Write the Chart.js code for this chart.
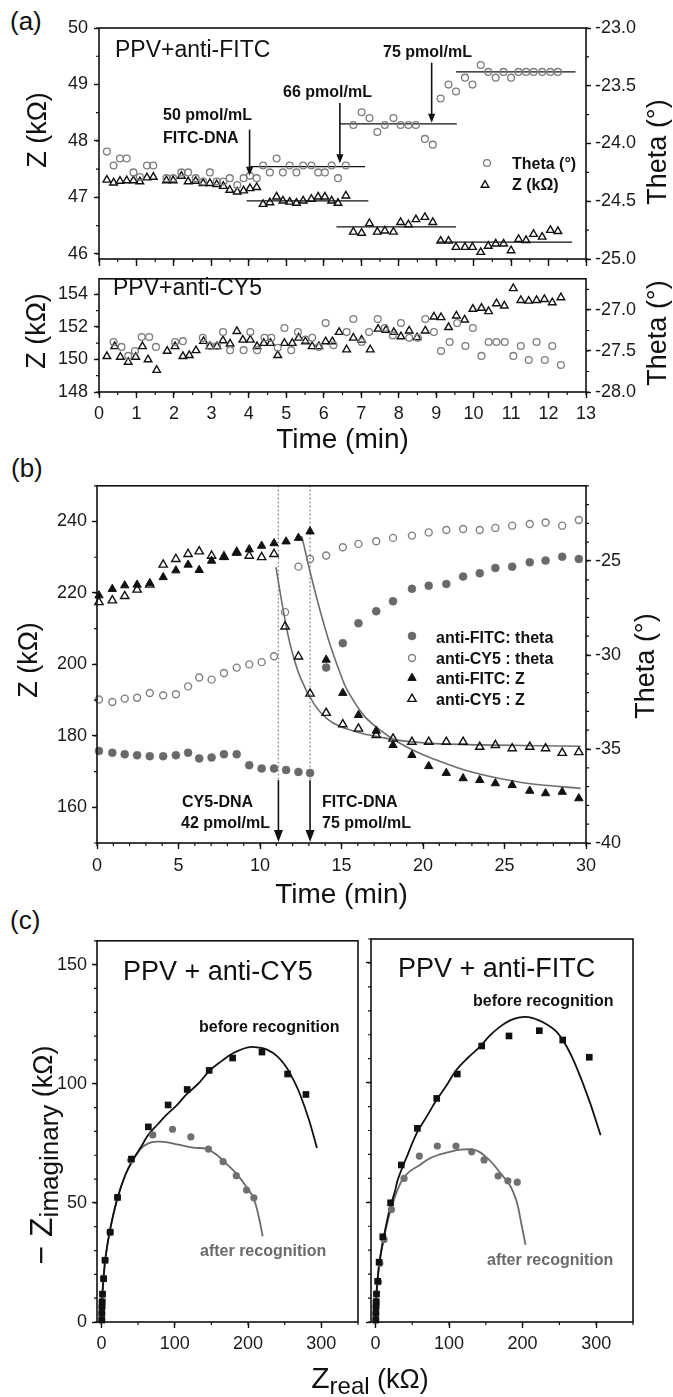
<!DOCTYPE html>
<html>
<head>
<meta charset="utf-8">
<title>Impedance response of PPV sensors</title>
<script src="https://cdn.jsdelivr.net/npm/chart.js"></script>
<style>
  html, body { margin: 0; background: #fff; }
  #page { position: relative; width: 673px; height: 1397px; overflow: hidden; }
  #page canvas { position: absolute; left: 0; }
  .tag { position: absolute; font: 26px/26px 'Liberation Sans', Arial, sans-serif; color: #111; }
</style>
</head>
<body>
<div id="page">
  <div class="tag" style="left:10px; top:8px">(a)</div>
  <div class="tag" style="left:11px; top:455px">(b)</div>
  <div class="tag" style="left:10px; top:907px">(c)</div>
  <canvas id="a1" width="673" height="276" style="top:0px"></canvas>
  <canvas id="a2" width="673" height="200" style="top:262px"></canvas>
  <canvas id="b" width="673" height="445" style="top:470px"></canvas>
  <canvas id="c1" width="673" height="472" style="top:925px"></canvas>
  <canvas id="c2" width="673" height="472" style="top:925px"></canvas>
</div>
<script>
// ---------- (a) upper: PPV+anti-FITC ----------
const fitcTime = [0.21,0.39,0.56,0.74,0.92,1.09,1.28,1.45,1.80,1.98,2.20,2.38,2.58,2.78,2.96,3.14,3.32,3.49,3.69,3.86,4.03,4.21,
  4.38,4.56,4.74,4.91,5.09,5.27,5.45,5.67,5.85,6.03,6.21,6.38,6.59,6.79,7.01,7.22,7.43,7.63,7.86,8.05,8.26,8.46,8.70,8.91,
  9.12,9.33,9.53,9.77,9.97,10.19,10.39,10.59,10.80,11.00,11.20,11.40,11.60,11.83,12.05,12.25];
const fitcZ = [47.31,47.26,47.29,47.30,47.30,47.28,47.35,47.36,
  47.30,47.30,47.38,47.28,47.29,47.25,47.25,47.23,47.20,47.13,47.10,47.12,47.16,47.18,
  46.88,46.91,47.01,46.94,46.92,46.90,46.94,46.97,47.01,47.01,46.94,46.90,47.03,
  46.39,46.37,46.54,46.39,46.41,46.39,46.56,46.52,46.61,46.65,46.56,
  46.23,46.23,46.12,46.12,46.12,46.03,46.14,46.18,46.18,46.06,46.26,46.24,46.35,46.30,46.42,46.40];
const fitcTheta = [-24.07,-24.19,-24.13,-24.13,-24.25,-24.29,-24.19,-24.19,
  -24.30,-24.30,-24.25,-24.25,-24.30,-24.33,-24.25,-24.33,-24.33,-24.30,-24.36,-24.30,-24.28,-24.30,
  -24.19,-24.25,-24.13,-24.25,-24.19,-24.25,-24.19,-24.19,-24.25,-24.25,-24.19,-24.30,-24.19,
  -23.84,-23.73,-23.78,-23.90,-23.84,-23.78,-23.84,-23.84,-23.84,-23.96,-24.01,
  -23.61,-23.49,-23.55,-23.43,-23.49,-23.32,-23.38,-23.43,-23.38,-23.43,-23.38,-23.38,-23.38,-23.38,-23.38,-23.38];
const thetaStepFrom = [4.04, 6.43, 9.53];
const thetaStepTo = [7.10, 9.55, 12.72];
const thetaStepLevel = [-24.20, -23.83, -23.38];
const zStepFrom = [3.94, 6.34, 9.02];
const zStepTo = [7.19, 9.53, 12.63];
const zStepLevel = [46.94, 46.48, 46.21];
const aArrowTime = [4.02, 6.43, 8.88];
const aArrowFrom = [-23.88, -23.65, -23.30];
const aArrowTo = [-24.28, -24.17, -23.82];

// ---------- (a) lower: PPV+anti-CY5 ----------
const cy5TimeZ = [0.21,0.42,0.57,0.78,0.98,1.16,1.31,1.54,1.82,2.03,2.24,2.41,2.59,2.79,2.96,3.15,3.31,3.50,3.68,3.84,
  4.04,4.22,4.40,4.58,4.77,4.95,5.16,5.33,5.51,5.69,5.87,6.05,6.23,6.41,6.61,6.79,7.01,7.24,7.45,7.66,
  7.87,8.06,8.28,8.49,8.71,8.94,9.13,9.33,9.54,9.76,9.98,10.21,10.40,10.61,10.82,11.06,11.26,11.47,11.68,11.89,12.10,12.33];
const cy5Z = [150.19,150.80,150.15,149.84,150.15,150.80,149.99,149.34,150.51,150.80,150.19,150.25,150.55,151.12,150.80,
  150.80,151.16,150.96,151.73,151.20,151.20,150.80,151.00,151.00,150.25,151.00,151.00,151.32,151.10,150.80,
  150.80,151.10,151.10,151.67,150.60,151.32,151.20,150.60,151.87,151.80,151.67,151.40,151.76,151.35,151.76,
  152.62,152.58,151.97,152.68,152.43,153.09,153.15,152.95,153.43,153.29,154.36,153.63,153.59,153.63,153.69,153.49,153.80];
const cy5TimeTheta = [0.39,0.60,0.78,0.96,1.14,1.34,1.52,2.03,2.24,2.77,2.96,3.15,3.31,3.50,3.86,4.04,4.22,4.42,4.60,4.77,
  4.95,5.13,5.31,5.51,5.69,5.87,6.05,6.26,6.61,6.79,7.01,7.21,7.44,7.63,7.84,8.06,8.28,8.51,8.71,8.94,
  9.13,9.36,9.56,9.78,9.98,10.21,10.40,10.61,10.83,11.06,11.26,11.47,11.68,11.90,12.10,12.33];
const cy5Theta = [-27.39,-27.45,-27.56,-27.50,-27.33,-27.33,-27.45,-27.39,-27.38,-27.34,-27.44,-27.44,-27.27,-27.49,-27.49,
  -27.27,-27.49,-27.34,-27.34,-27.46,-27.22,-27.49,-27.27,-27.36,-27.34,-27.45,-27.16,-27.43,-27.27,-27.11,
  -27.39,-27.27,-27.11,-27.22,-27.31,-27.16,-27.34,-27.34,-27.11,-27.27,-27.50,-27.39,-27.16,-27.44,-27.22,
  -27.56,-27.39,-27.39,-27.39,-27.56,-27.44,-27.61,-27.39,-27.61,-27.44,-27.67];

const aTimeTicks = [0,1,2,3,4,5,6,7,8,9,10,11,12,13];
const aFitcZTicks = [46, 47, 48, 49, 50];
const aFitcThetaTicks = [-25, -24.5, -24, -23.5, -23];
const aCy5ZTicks = [148, 150, 152, 154];
const aCy5ThetaTicks = [-28, -27.5, -27];

// ---------- (b) two sensors, sequential injections ----------
const bTimeFitc = [0.12,0.94,1.70,2.46,3.24,4.06,4.84,5.59,6.27,7.03,7.79,8.57,9.34,10.10,10.86,11.60,12.36,13.07,
  14.06,15.08,16.04,17.13,18.16,19.32,20.35,21.43,22.46,23.48,24.44,25.47,26.55,27.52,28.54,29.56];
const bFitcZ = [219.3,221.1,222.1,222.3,222.7,224.4,226.3,227.9,226.4,229.0,230.0,231.2,232.2,233.2,233.9,234.4,235.4,237.2,
  201.3,192.0,185.8,181.4,177.4,174.6,171.5,169.6,168.1,167.6,166.7,166.2,164.6,163.9,164.3,162.5];
const bFitcTheta = [-35.10,-35.20,-35.28,-35.33,-35.38,-35.38,-35.33,-35.20,-35.50,-35.45,-35.28,-35.28,-35.86,-36.04,-36.04,-36.12,-36.22,-36.27,
  -30.67,-29.37,-28.31,-27.67,-27.14,-26.48,-26.31,-26.22,-25.83,-25.65,-25.37,-25.30,-25.07,-24.98,-24.77,-24.89];
const bTimeCy5 = [0.12,0.94,1.70,2.46,3.24,4.06,4.84,5.59,6.27,7.03,7.79,8.57,9.34,10.10,10.86,11.54,12.36,13.07,
  14.06,15.08,16.04,17.13,18.16,19.32,20.35,21.43,22.46,23.48,24.44,25.47,26.55,27.52,28.54,29.56];
const bCy5Z = [217.4,217.9,219.1,220.9,222.3,227.9,229.5,230.9,231.6,230.4,230.2,231.4,230.4,230.0,230.9,210.6,202.2,191.8,
  186.4,183.2,182.0,180.2,179.2,178.3,178.3,178.3,178.3,176.9,177.4,176.5,176.9,176.5,175.2,175.4];
const bCy5Theta = [-32.37,-32.50,-32.32,-32.27,-32.02,-32.14,-32.09,-31.67,-31.20,-31.31,-30.96,-30.67,-30.50,-30.38,-30.07,-27.72,-25.30,-24.89,
  -24.71,-24.27,-24.09,-23.95,-23.77,-23.65,-23.48,-23.35,-23.30,-23.35,-23.24,-23.12,-23.03,-22.95,-23.12,-22.82];
const bCy5FitTime = [10.98,11.43,11.84,12.46,13.30,14.10,14.92,16.35,17.40,18.40,20.45,24.55,29.67];
const bCy5FitZ = [227.2,215.1,205.8,196.5,189.0,184.8,182.6,180.6,179.6,178.8,177.9,177.4,177.1];
const bFitcFitTime = [12.56,13.07,13.69,14.30,14.92,15.33,16.35,17.37,18.40,19.43,20.45,22.50,24.55,26.60,29.67];
const bFitcFitZ = [236.0,226.0,215.0,205.5,197.5,193.0,185.8,181.6,178.4,175.9,173.9,170.5,168.2,166.6,165.3];
const bInjectTime = [11.13, 13.07];
const bDotTop = 250, bDotEnd = 167.6, bArrowTip = 150.3;

const bTimeTicks = [0, 5, 10, 15, 20, 25, 30];
const bZTicks = [160, 180, 200, 220, 240];
const bThetaTicks = [-40, -35, -30, -25];

// ---------- (c) Nyquist plots ----------
const cy5BeforeRe = [0.5,0.6,0.8,1.0,1.5,3,5,12,22,41,64,91,117,147,179,219,254,279];
const cy5BeforeIm = [0.8,3.6,6.4,8.5,11.7,18.2,25.9,37.7,52.3,68.4,81.9,91.1,97.6,105.6,110.8,113.3,104.1,95.5];
const cy5AfterRe = [0.5,0.6,0.8,1.0,1.5,3,5,12,22,40,70,97,122,146,166,184,198,208];
const cy5AfterIm = [1.0,3.6,6.4,8.5,11.7,18.2,26,37.7,52.3,68,78.5,80.9,77.7,72.6,67.3,61.4,55.4,52.1];
const cy5BeforeFitRe = [0,0.5,1.5,3,6,12,22,33,43,55,65,77,89,103,116,132,148,164,180,200,215,226,240,253,263,271,283,294];
const cy5BeforeFitIm = [0,5,12,19,28,39,52,62,68,74,79,83,87,91,95.5,100,105.6,109.5,112.9,115.3,115.2,114.3,111.5,106.6,101,95.5,85,73];
const cy5AfterFitRe = [0,0.5,1.5,3,6,12,22,33,43,53,64,78,90,103,125,144,158,171,185,196,207,214,220];
const cy5AfterFitIm = [0,5,12,19,28,39,52,62,68,72.5,75,75.7,75.4,74.6,73.2,72.6,70,66.3,62,57.5,52.3,45,36];

const fitcBeforeRe = [0.5,0.6,0.8,1.0,1.5,3,5,10,20.6,35.2,57,83.3,111.3,144.4,181.5,222.7,254.5,290.6];
const fitcBeforeIm = [0.8,3.6,6.4,8.5,11.7,17,25,35.6,49.8,65.6,80.9,93.4,103.6,115.3,119.5,121.7,117.8,110.6];
const fitcAfterRe = [0.5,0.6,0.8,1.0,1.5,4.3,6,11.7,21.8,38.9,59.7,84.1,109.5,130.8,147.6,166.7,180,192.7];
const fitcAfterIm = [1.0,3.6,6.4,8.5,11.7,16.8,24.5,34.5,47,60,69.3,73.5,73.5,71.1,67.7,61,59,58.4];
const fitcBeforeFitRe = [0,1,3,6,11,20,26,31,44,56,70,83,97,110,126,142,155,169,183,196,208,219,233,246,260,273,290,306];
const fitcBeforeFitIm = [0,9,18,26,35,48,54,60,70,78.8,86,92.7,99,105.3,110.5,115,119.5,123.3,126,127.3,127.4,126.4,124.3,121.3,115,106.6,93,78];
const fitcAfterFitRe = [0,1,3,6,11,20,35,47,60,74,88,101,116,131,140,149,160,169,181,187,192.5,198,204];
const fitcAfterFitIm = [0,9,18,26,34,46,58.6,63,65.5,68.4,70,71.1,72,72.1,71.3,69.3,66,62.5,58,54.5,49.7,41.5,32.2];

const cReTicks = [0, 100, 200, 300];
const cImTicks = [0, 50, 100, 150];

// ---------- styling ----------
const F = "'Liberation Sans', Arial, Helvetica, sans-serif";
const INK = '#111111', GREY = '#7d7d7d', DOT = '#696969', CURVE = '#6e6e6e', CLEAR = 'rgba(0,0,0,0)';
const B16 = 'bold 16px ' + F;
Chart.defaults.font.family = F;
Chart.defaults.color = '#1a1a1a';

const pts = (xs, ys) => xs.map((x, i) => ({ x, y: ys[i] }));
const dots = (xs, ys, o) => Object.assign({ data: pts(xs, ys), showLine: false, clip: false }, o);
const curve = (xs, ys, o) => Object.assign({ data: pts(xs, ys), showLine: true, pointRadius: 0, borderWidth: 1.5, tension: 0.4, fill: false }, o);

function axis(o) {
  return {
    type: 'linear', position: o.pos, min: o.min, max: o.max,
    afterBuildTicks: s => { s.ticks = o.ticks.map(v => ({ value: v })); },
    afterFit: s => { if (o.pos === 'bottom') s.height = o.size; else s.width = o.size; },
    border: { display: false },
    grid: { drawOnChartArea: false, drawTicks: true, tickLength: o.tick || 5, tickColor: INK, tickWidth: 1.4 },
    ticks: { display: o.labels !== false, padding: o.pad ?? 5, autoSkip: false, maxRotation: 0,
             font: { size: 18 }, color: '#1a1a1a', callback: o.fmt || (v => String(v)) },
    title: o.title ? { display: true, text: o.title, color: INK, font: { size: 28 }, padding: { top: 0, bottom: o.titlePad || 0 } }
                   : { display: false }
  };
}

function opts(scales, padding) {
  return { responsive: false, animation: false, devicePixelRatio: 1, events: [],
           layout: { padding }, scales, plugins: { legend: { display: false }, tooltip: { enabled: false } } };
}

// box round the plot area
const frame = { id: 'frame', afterDraw(chart) {
  const { ctx, chartArea: a } = chart;
  ctx.save(); ctx.strokeStyle = INK; ctx.lineWidth = 1.6;
  ctx.strokeRect(a.left, a.top, a.right - a.left, a.bottom - a.top);
  ctx.restore();
}};

// minor tick marks, outward like the major ones
function minor(steps) {
  return { id: 'minor', afterDraw(chart) {
    const ctx = chart.ctx;
    ctx.save(); ctx.strokeStyle = INK; ctx.lineWidth = 1.2; ctx.beginPath();
    for (const id in steps) {
      const s = chart.scales[id], st = steps[id], len = 3;
      for (let n = Math.ceil(s.min / st - 1e-9); n <= Math.floor(s.max / st + 1e-9); n++) {
        const p = s.getPixelForValue(n * st);
        if (s.position === 'left') { ctx.moveTo(s.right, p); ctx.lineTo(s.right - len, p); }
        else if (s.position === 'right') { ctx.moveTo(s.left, p); ctx.lineTo(s.left + len, p); }
        else { ctx.moveTo(p, s.top); ctx.lineTo(p, s.top + len); }
      }
    }
    ctx.stroke(); ctx.restore();
  }};
}

// free text; page coordinates, parts = [text, font, baseline shift]
function words(items, top) {
  return { id: 'words', afterDraw(chart) {
    const ctx = chart.ctx;
    for (const t of items) {
      const parts = t.parts || [[t.text, t.f, 0]];
      ctx.save();
      ctx.translate(t.x, t.y - top);
      if (t.rot) ctx.rotate(t.rot * Math.PI / 180);
      ctx.fillStyle = t.color || INK; ctx.textBaseline = 'alphabetic'; ctx.textAlign = 'left';
      let w = 0;
      const ws = parts.map(p => { ctx.font = p[1]; const m = ctx.measureText(p[0]).width; w += m; return m; });
      let x = t.align === 'center' ? -w / 2 : 0;
      parts.forEach((p, i) => { ctx.font = p[1]; ctx.fillText(p[0], x, p[2]); x += ws[i]; });
      ctx.restore();
    }
  }};
}

// downward arrows in data units
function arrows(xs, from, to, yId, head, half) {
  return { id: 'arrows', afterDatasetsDraw(chart) {
    const ctx = chart.ctx, sx = chart.scales.x, sy = chart.scales[yId];
    ctx.save(); ctx.strokeStyle = INK; ctx.fillStyle = INK; ctx.lineWidth = 1.6;
    xs.forEach((t, i) => {
      const px = sx.getPixelForValue(t), p1 = sy.getPixelForValue(from[i]), p2 = sy.getPixelForValue(to[i]);
      ctx.beginPath(); ctx.moveTo(px, p1); ctx.lineTo(px, p2 - head + 1); ctx.stroke();
      ctx.beginPath(); ctx.moveTo(px - half, p2 - head); ctx.lineTo(px + half, p2 - head); ctx.lineTo(px, p2); ctx.closePath(); ctx.fill();
    });
    ctx.restore();
  }};
}

// legend drawn inside the plot, markers taken from the datasets
function key(items, textX, top) {
  return { id: 'key', afterDraw(chart) {
    const ctx = chart.ctx;
    ctx.save();
    for (const it of items) {
      const d = chart.data.datasets[it.ds];
      ctx.fillStyle = d.pointBackgroundColor; ctx.strokeStyle = d.pointBorderColor; ctx.lineWidth = d.pointBorderWidth;
      Chart.helpers.drawPoint(ctx, { pointStyle: d.pointStyle, radius: d.pointRadius, borderWidth: d.pointBorderWidth, rotation: 0 }, it.mx, it.my - top);
      ctx.fillStyle = INK; ctx.font = B16; ctx.textAlign = 'left'; ctx.textBaseline = 'alphabetic';
      ctx.fillText(d.label, textX, it.ty - top);
    }
    ctx.restore();
  }};
}

const openCircle = { pointStyle: 'circle', pointRadius: 3.4, pointBorderWidth: 1.3, pointBorderColor: GREY, pointBackgroundColor: CLEAR };
const openTri = { pointStyle: 'triangle', pointRadius: 4.4, pointBorderWidth: 1.4, pointBorderColor: INK, pointBackgroundColor: CLEAR };

// ---------- (a) upper ----------
const a1Steps = [];
thetaStepLevel.forEach((v, i) => a1Steps.push(curve([thetaStepFrom[i], thetaStepTo[i]], [v, v], { yAxisID: 'yr', borderColor: INK, borderWidth: 1.2, tension: 0 })));
zStepLevel.forEach((v, i) => a1Steps.push(curve([zStepFrom[i], zStepTo[i]], [v, v], { yAxisID: 'y', borderColor: INK, borderWidth: 1.2, tension: 0 })));

new Chart(document.getElementById('a1'), {
  type: 'scatter',
  data: { datasets: [
    dots(fitcTime, fitcTheta, Object.assign({ label: 'Theta (°)', yAxisID: 'yr' }, openCircle)),
    dots(fitcTime, fitcZ, Object.assign({ label: 'Z (kΩ)', yAxisID: 'y' }, openTri)),
    ...a1Steps
  ]},
  options: opts({
    x: axis({ pos: 'bottom', min: 0, max: 13, ticks: aTimeTicks, size: 17, tick: 7, labels: false }),
    y: axis({ pos: 'left', min: 45.91, max: 50, ticks: aFitcZTicks, size: 99, tick: 5, pad: 6 }),
    yr: axis({ pos: 'right', min: -25, max: -23, ticks: aFitcThetaTicks, size: 87, tick: 5, pad: 4, fmt: v => v.toFixed(1) })
  }, { top: 28 }),
  plugins: [frame, minor({ x: 0.5, y: 0.5, yr: 0.25 }), arrows(aArrowTime, aArrowFrom, aArrowTo, 'yr', 9, 3.6),
    key([{ ds: 0, mx: 487, my: 163, ty: 169 }, { ds: 1, mx: 485, my: 185, ty: 190 }], 512, 0),
    words([
      { text: 'PPV+anti-FITC', f: '23px ' + F, x: 115, y: 57 },
      { text: '50 pmol/mL', f: B16, x: 163, y: 120 },
      { text: 'FITC-DNA', f: B16, x: 163, y: 143 },
      { text: '66 pmol/mL', f: B16, x: 283, y: 97 },
      { text: '75 pmol/mL', f: B16, x: 383, y: 57 },
      { text: 'Z (kΩ)', f: '27px ' + F, x: 46, y: 130, rot: -90, align: 'center' },
      { text: 'Theta (°)', f: '27px ' + F, x: 666, y: 152, rot: -90, align: 'center' }
    ], 0)]
});

// ---------- (a) lower ----------
new Chart(document.getElementById('a2'), {
  type: 'scatter',
  data: { datasets: [
    dots(cy5TimeTheta, cy5Theta, Object.assign({ label: 'Theta (°)', yAxisID: 'yr' }, openCircle)),
    dots(cy5TimeZ, cy5Z, Object.assign({ label: 'Z (kΩ)', yAxisID: 'y' }, openTri))
  ]},
  options: opts({
    x: axis({ pos: 'bottom', min: 0, max: 13, ticks: aTimeTicks, size: 70, tick: 6, pad: 5, title: 'Time (min)', titlePad: 5 }),
    y: axis({ pos: 'left', min: 148, max: 154.95, ticks: aCy5ZTicks, size: 99, tick: 5, pad: 6 }),
    yr: axis({ pos: 'right', min: -28, max: -26.62, ticks: aCy5ThetaTicks, size: 87, tick: 5, pad: 4, fmt: v => v.toFixed(1) })
  }, { top: 16 }),
  plugins: [frame, minor({ x: 0.5, y: 1, yr: 0.25 }),
    words([
      { text: 'PPV+anti-CY5', f: '23px ' + F, x: 113, y: 295 },
      { text: 'Z (kΩ)', f: '27px ' + F, x: 45, y: 331, rot: -90, align: 'center' },
      { text: 'Theta (°)', f: '27px ' + F, x: 666, y: 333, rot: -90, align: 'center' }
    ], 262)]
});

// ---------- (b) ----------
const injLines = bInjectTime.map(t => curve([t, t], [bDotTop, bDotEnd], { yAxisID: 'y', borderColor: '#777', borderWidth: 1.3, borderDash: [1.5, 2.5], tension: 0 }));
new Chart(document.getElementById('b'), {
  type: 'scatter',
  data: { datasets: [
    dots(bTimeFitc, bFitcTheta, { label: 'anti-FITC: theta', yAxisID: 'yr', pointStyle: 'circle', pointRadius: 4, pointBorderWidth: 0.5, pointBorderColor: DOT, pointBackgroundColor: DOT }),
    dots(bTimeCy5, bCy5Theta, { label: 'anti-CY5 : theta', yAxisID: 'yr', pointStyle: 'circle', pointRadius: 3.5, pointBorderWidth: 1.4, pointBorderColor: '#808080', pointBackgroundColor: CLEAR }),
    dots(bTimeFitc, bFitcZ, { label: 'anti-FITC: Z', yAxisID: 'y', pointStyle: 'triangle', pointRadius: 4.8, pointBorderWidth: 1, pointBorderColor: INK, pointBackgroundColor: INK }),
    dots(bTimeCy5, bCy5Z, { label: 'anti-CY5 : Z', yAxisID: 'y', pointStyle: 'triangle', pointRadius: 4.8, pointBorderWidth: 1.4, pointBorderColor: INK, pointBackgroundColor: CLEAR }),
    curve(bCy5FitTime, bCy5FitZ, { yAxisID: 'y', borderColor: CURVE, borderWidth: 1.6, tension: 0.35 }),
    curve(bFitcFitTime, bFitcFitZ, { yAxisID: 'y', borderColor: CURVE, borderWidth: 1.6, tension: 0.35 }),
    ...injLines
  ]},
  options: opts({
    x: axis({ pos: 'bottom', min: 0, max: 30, ticks: bTimeTicks, size: 72, tick: 6, pad: 6, title: 'Time (min)', titlePad: 3 }),
    y: axis({ pos: 'left', min: 150, max: 250, ticks: bZTicks, size: 97, tick: 5, pad: 5 }),
    yr: axis({ pos: 'right', min: -40, max: -21, ticks: bThetaTicks, size: 87, tick: 5, pad: 4 })
  }, { top: 15 }),
  plugins: [frame, minor({ x: 1, y: 10, yr: 1 }), arrows(bInjectTime, [bDotEnd, bDotEnd], [bArrowTip, bArrowTip], 'y', 12, 4.5),
    key([{ ds: 0, mx: 412, my: 636, ty: 643 }, { ds: 1, mx: 412, my: 658, ty: 664 },
         { ds: 2, mx: 412, my: 678, ty: 684 }, { ds: 3, mx: 412, my: 699, ty: 705 }], 436, 470),
    words([
      { text: 'CY5-DNA', f: B16, x: 182, y: 807 },
      { text: '42 pmol/mL', f: B16, x: 181, y: 828 },
      { text: 'FITC-DNA', f: B16, x: 322, y: 807 },
      { text: '75 pmol/mL', f: B16, x: 322, y: 828 },
      { text: 'Z (kΩ)', f: '27px ' + F, x: 37, y: 660, rot: -90, align: 'center' },
      { text: 'Theta (°)', f: '27px ' + F, x: 654, y: 666, rot: -90, align: 'center' }
    ], 470)]
});

// ---------- (c) ----------
function nyquist(id, data, pad, showY, items) {
  const [bRe, bIm, aRe, aIm, bfRe, bfIm, afRe, afIm] = data;
  new Chart(document.getElementById(id), {
    type: 'scatter',
    data: { datasets: [
      dots(bRe, bIm, { label: 'before recognition', pointStyle: 'rect', pointRadius: 4.7, pointBorderWidth: 0, pointBorderColor: INK, pointBackgroundColor: INK }),
      dots(aRe, aIm, { label: 'after recognition', pointStyle: 'circle', pointRadius: 3.6, pointBorderWidth: 0, pointBorderColor: '#707070', pointBackgroundColor: '#707070' }),
      curve(bfRe, bfIm, { borderColor: INK, borderWidth: 1.8, tension: 0.4 }),
      curve(afRe, afIm, { borderColor: '#6a6a6a', borderWidth: 1.8, tension: 0.4 })
    ]},
    options: opts({
      x: axis({ pos: 'bottom', min: -6, max: 350, ticks: cReTicks, size: 75, tick: 6, pad: 5 }),
      y: axis({ pos: 'left', min: 0, max: 160, ticks: cImTicks, size: showY ? 97 : 11, tick: 5, pad: 5, labels: showY })
    }, pad),
    plugins: [frame, minor({ x: 50, y: 10 }), words(items, 925)]
  });
}

nyquist('c1', [cy5BeforeRe, cy5BeforeIm, cy5AfterRe, cy5AfterIm, cy5BeforeFitRe, cy5BeforeFitIm, cy5AfterFitRe, cy5AfterFitIm],
  { top: 14, right: 315 }, true, [
    { text: 'PPV + anti-CY5', f: '27px ' + F, x: 123, y: 980 },
    { text: 'before recognition', f: B16, x: 199, y: 1032 },
    { text: 'after recognition', f: B16, x: 200, y: 1256, color: '#6a6a6a' },
    { parts: [['− Z', '32px ' + F, 0], ['imaginary', '26px ' + F, 6], [' (kΩ)', '27px ' + F, 0]], x: 52, y: 1155, rot: -90, align: 'center' },
    { parts: [['Z', '30px ' + F, 0], ['real', '24px ' + F, 6], [' (kΩ)', '27px ' + F, 0]], x: 370, y: 1388, align: 'center' }
  ]);

nyquist('c2', [fitcBeforeRe, fitcBeforeIm, fitcAfterRe, fitcAfterIm, fitcBeforeFitRe, fitcBeforeFitIm, fitcAfterFitRe, fitcAfterFitIm],
  { top: 14, left: 360, right: 40 }, false, [
    { text: 'PPV + anti-FITC', f: '27px ' + F, x: 398, y: 977 },
    { text: 'before recognition', f: B16, x: 473, y: 1006 },
    { text: 'after recognition', f: B16, x: 487, y: 1265, color: '#6a6a6a' }
  ]);
</script>
</body>
</html>
